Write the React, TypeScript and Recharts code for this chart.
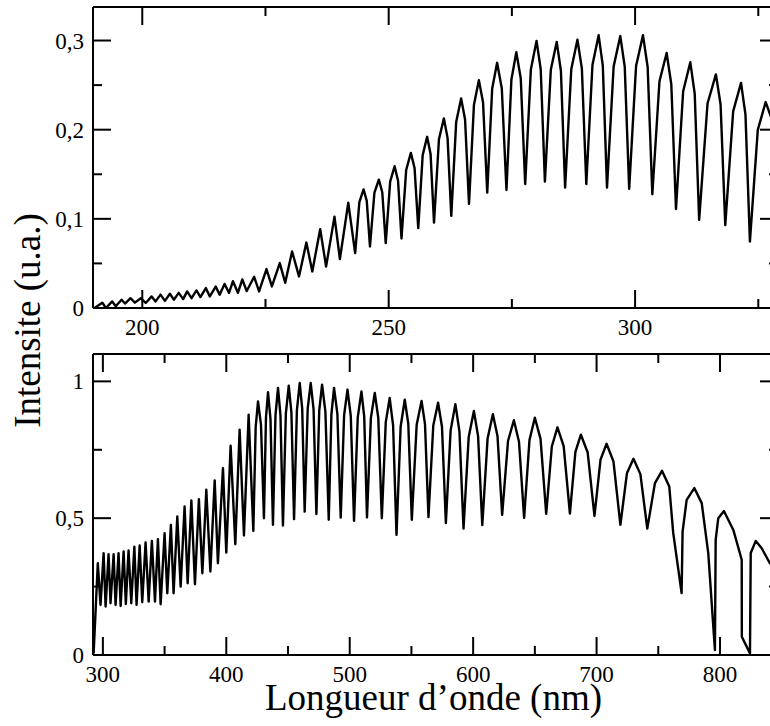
import React from 'react';
import { LineChart, Line, XAxis, YAxis } from 'recharts';

// ---- Top panel (UV): [wavelength nm, intensity u.a.] ----
const topSpectrum: [number, number][] = [
  [190.3, 0.0], [191.9, 0.006], [192.6, 0.0], [193.9, 0.0074], [194.6, 0.002],
  [195.8, 0.0093], [196.5, 0.005], [197.6, 0.011], [198.5, 0.006], [199.7, 0.011],
  [200.7, 0.0056], [201.9, 0.013], [202.7, 0.0074], [203.7, 0.015], [204.6, 0.008],
  [205.6, 0.016], [206.4, 0.0093], [207.4, 0.017], [208.3, 0.01], [209.1, 0.0186],
  [210.0, 0.011], [211.0, 0.0197], [211.8, 0.0123], [212.9, 0.0224], [213.7, 0.013],
  [214.9, 0.024], [215.7, 0.015], [216.7, 0.027], [217.6, 0.017], [218.4, 0.03],
  [219.4, 0.017], [220.3, 0.032], [221.2, 0.019], [222.7, 0.035], [223.7, 0.0186],
  [225.2, 0.0437], [226.3, 0.0242], [227.9, 0.0504], [229.0, 0.0283], [230.4, 0.0634],
  [231.8, 0.0354], [233.3, 0.0734], [234.5, 0.041], [236.1, 0.0884], [237.3, 0.0466],
  [239.0, 0.1025], [240.1, 0.0549], [241.8, 0.118], [243.2, 0.0616],
  [244.05, 0.1187], [244.9, 0.133], [245.55, 0.1202], [246.2, 0.069],
  [247.1, 0.129], [248.0, 0.144], [248.7, 0.1298], [249.4, 0.0728],
  [250.3, 0.1418], [251.2, 0.159], [251.9, 0.1428], [252.6, 0.078],
  [253.55, 0.1548], [254.5, 0.174], [255.25, 0.1571], [256.0, 0.0896],
  [256.9, 0.1715], [257.8, 0.192], [258.5, 0.1728], [259.2, 0.0958],
  [260.2, 0.1893], [261.2, 0.2127], [261.95, 0.1908], [262.7, 0.1033],
  [263.7, 0.2087], [264.7, 0.235], [265.5, 0.2114], [266.3, 0.1168],
  [267.3, 0.2278], [268.3, 0.2556], [269.15, 0.2304], [270.0, 0.1294],
  [271.0, 0.2459], [272.0, 0.275], [272.95, 0.2465], [273.9, 0.1324],
  [274.9, 0.2561], [275.9, 0.287], [276.8, 0.2574], [277.7, 0.139],
  [278.85, 0.2675], [280.0, 0.2996], [280.85, 0.268], [281.7, 0.1417],
  [282.9, 0.2671], [284.1, 0.2985], [284.95, 0.2658], [285.8, 0.135],
  [287.05, 0.2678], [288.3, 0.301], [289.2, 0.2686], [290.1, 0.139],
  [291.35, 0.2726], [292.6, 0.306], [293.45, 0.2718], [294.3, 0.135],
  [295.65, 0.271], [297.0, 0.305], [297.9, 0.2707], [298.8, 0.1336],
  [300.2, 0.2715], [301.6, 0.306], [302.55, 0.2703], [303.5, 0.1276],
  [304.95, 0.2543], [306.4, 0.286], [307.35, 0.251], [308.3, 0.111],
  [309.75, 0.2428], [311.2, 0.2757], [312.1, 0.2403], [313.0, 0.0988],
  [314.7, 0.2294], [316.4, 0.262], [317.35, 0.2282], [318.3, 0.093],
  [319.9, 0.2206], [321.5, 0.2525], [322.4, 0.2169], [323.3, 0.0745],
  [324.9, 0.1997], [326.5, 0.231], [328.5, 0.2],
];

// ---- Bottom panel (visible / near IR): [wavelength nm, intensity u.a.] ----
const bottomSpectrum: [number, number][] = [
  [292.5, 0.006], [295.9, 0.3355], [298.1, 0.183], [300.6, 0.372], [302.2, 0.177],
  [304.6, 0.368], [306.2, 0.189], [308.7, 0.368], [310.3, 0.183], [312.7, 0.372],
  [314.4, 0.179], [316.8, 0.378], [318.6, 0.1866], [320.8, 0.3817], [323.0, 0.189],
  [325.5, 0.396], [327.3, 0.183], [329.8, 0.4], [331.9, 0.193], [334.6, 0.411],
  [337.1, 0.195], [339.7, 0.417], [342.2, 0.195], [344.6, 0.423], [346.8, 0.1855],
  [350.0, 0.445], [352.2, 0.2257], [355.1, 0.4757], [357.3, 0.2257], [360.3, 0.506],
  [363.0, 0.25], [366.2, 0.5426], [368.7, 0.262], [371.7, 0.5646], [374.6, 0.2587],
  [377.8, 0.5697], [380.6, 0.299], [383.8, 0.6037], [387.1, 0.305], [390.6, 0.638],
  [393.2, 0.3355], [397.3, 0.683], [400.0, 0.374], [403.5, 0.7647], [407.3, 0.405],
  [410.8, 0.823], [414.3, 0.4366], [418.1, 0.878], [421.9, 0.4537],
  [423.8, 0.8323], [425.7, 0.927], [428.1, 0.8416], [430.5, 0.5],
  [432.15, 0.868], [433.8, 0.96], [435.8, 0.8631], [437.8, 0.4757],
  [439.85, 0.876], [441.9, 0.976], [443.9, 0.8754], [445.9, 0.473],
  [448.25, 0.8818], [450.6, 0.984], [452.75, 0.8865], [454.9, 0.4965],
  [457.2, 0.8945], [459.5, 0.994], [461.5, 0.9], [463.5, 0.524],
  [465.95, 0.9], [468.4, 0.994], [470.7, 0.8982], [473.0, 0.515],
  [475.3, 0.8934], [477.6, 0.988], [480.3, 0.8892], [483.0, 0.494],
  [485.15, 0.8796], [487.3, 0.976], [490.0, 0.8812], [492.7, 0.502],
  [495.45, 0.8764], [498.2, 0.97], [500.85, 0.874], [503.5, 0.49],
  [506.5, 0.8684], [509.5, 0.963], [511.75, 0.871], [514.0, 0.503],
  [517.15, 0.8667], [520.3, 0.9576], [523.15, 0.8661], [526.0, 0.5],
  [529.2, 0.8512], [532.4, 0.939], [535.15, 0.839], [537.9, 0.439],
  [541.25, 0.8342], [544.6, 0.933], [547.45, 0.8452], [550.3, 0.494],
  [554.25, 0.8418], [558.2, 0.9287], [561.0, 0.8438], [563.8, 0.504],
  [567.7, 0.8384], [571.6, 0.922], [574.75, 0.834], [577.9, 0.482],
  [581.75, 0.821], [585.6, 0.9166], [588.9, 0.817], [592.2, 0.462],
  [596.4, 0.797], [600.6, 0.892], [604.0, 0.8], [607.4, 0.4745],
  [611.7, 0.791], [616.0, 0.88], [619.75, 0.799], [623.5, 0.512],
  [628.25, 0.782], [633.0, 0.858], [637.15, 0.779], [641.3, 0.501],
  [645.65, 0.786], [650.0, 0.867], [654.6, 0.79], [659.2, 0.516],
  [663.75, 0.762], [668.3, 0.832], [673.35, 0.763], [678.4, 0.517],
  [682.85, 0.742], [687.3, 0.805], [692.8, 0.74], [698.3, 0.508],
  [703.2, 0.714], [708.1, 0.772], [713.7, 0.707], [719.3, 0.4757],
  [724.6, 0.664], [729.9, 0.717], [735.5, 0.661], [741.1, 0.462],
  [747.3, 0.628], [753.0, 0.673], [758.9, 0.616], [762.1, 0.446],
  [768.9, 0.226], [769.7, 0.451], [773.0, 0.567], [779.2, 0.61],
  [785.2, 0.555], [790.5, 0.372], [795.9, 0.018], [796.5, 0.421],
  [798.6, 0.5], [803.2, 0.526], [810.8, 0.457], [817.6, 0.348],
  [817.7, 0.067], [824.3, 0.006], [824.9, 0.373], [829.0, 0.417],
  [833.8, 0.39], [840.5, 0.335], [846.0, 0.32],
];

// ---- Axis ticks ----
const topXMajor = [200, 250, 300];
const topXMinor = [225, 275, 325];
const topYMajor = [0, 0.1, 0.2, 0.3];
const topYMinor = [0.05, 0.15, 0.25];
const bottomXMajor = [300, 400, 500, 600, 700, 800];
const bottomXMinor = [350, 450, 550, 650, 750];
const bottomYMajor = [0, 0.5, 1];
const bottomYMinor = [0.25, 0.75];

const xTitle = 'Longueur d\u2019onde (nm)';
const yTitle = 'Intensite (u.a.)';

const FONT = "'Liberation Serif', 'Times New Roman', Times, serif";
const fmt = (v: number) => String(v).replace('.', ',');

const topData = topSpectrum.map(([x, y]) => ({ x, y }));
const bottomData = bottomSpectrum.map(([x, y]) => ({ x, y }));

type Side = 'bottom' | 'top' | 'left' | 'right';

const labelStyle = { fontFamily: FONT, fontSize: 23 };

const makeTick = (side: Side, majors: number[], withLabel: boolean) => (props: any) => {
  const { x, y, payload } = props;
  const v = payload.value as number;
  const isMajor = majors.some((m) => Math.abs(m - v) < 1e-9);
  const len = isMajor ? 18 : 9;
  let x2 = x;
  let y2 = y;
  if (side === 'bottom') y2 = y - len;
  if (side === 'top') y2 = y + len;
  if (side === 'left') x2 = x + len;
  if (side === 'right') x2 = x - len;
  let label = null;
  if (withLabel && isMajor) {
    if (side === 'bottom') {
      label = (
        <text x={x} y={y + 27} textAnchor="middle" fontSize={23} fontFamily={FONT} style={labelStyle} fill="#000">
          {fmt(v)}
        </text>
      );
    } else if (side === 'left') {
      label = (
        <text x={x - 9} y={y + 8} textAnchor="end" fontSize={23} fontFamily={FONT} style={labelStyle} fill="#000">
          {fmt(v)}
        </text>
      );
    }
  }
  return (
    <g>
      <line x1={x} y1={y} x2={x2} y2={y2} stroke="#000" strokeWidth={2} />
      {label}
    </g>
  );
};

const axisLine = { stroke: '#000', strokeWidth: 2 };

interface PanelProps {
  data: { x: number; y: number }[];
  xDomain: [number, number];
  yDomain: [number, number];
  xMajor: number[];
  xMinor: number[];
  yMajor: number[];
  yMinor: number[];
  top: number;
}

const Panel = ({ data, xDomain, yDomain, xMajor, xMinor, yMajor, yMinor, top }: PanelProps) => (
  <div style={{ position: 'absolute', left: 0, top }}>
    <LineChart width={800} height={345} data={data} margin={{ top: 0, right: 0, bottom: 0, left: 0 }}>
      <XAxis
        xAxisId="b"
        orientation="bottom"
        dataKey="x"
        type="number"
        domain={xDomain}
        allowDataOverflow
        ticks={[...xMajor, ...xMinor]}
        interval={0}
        tickSize={0}
        tickMargin={0}
        tickLine={false}
        axisLine={axisLine}
        height={37}
        tick={makeTick('bottom', xMajor, true)}
      />
      <XAxis
        xAxisId="t"
        orientation="top"
        dataKey="x"
        type="number"
        domain={xDomain}
        allowDataOverflow
        ticks={[...xMajor, ...xMinor]}
        interval={0}
        tickSize={0}
        tickMargin={0}
        tickLine={false}
        axisLine={axisLine}
        height={7}
        tick={makeTick('top', xMajor, false)}
      />
      <YAxis
        yAxisId="l"
        orientation="left"
        type="number"
        domain={yDomain}
        allowDataOverflow
        ticks={[...yMajor, ...yMinor]}
        interval={0}
        tickSize={0}
        tickMargin={0}
        tickLine={false}
        axisLine={axisLine}
        width={93}
        tick={makeTick('left', yMajor, true)}
      />
      <YAxis
        yAxisId="r"
        orientation="right"
        type="number"
        domain={yDomain}
        allowDataOverflow
        ticks={[...yMajor, ...yMinor]}
        interval={0}
        tickSize={0}
        tickMargin={0}
        tickLine={false}
        axisLine={axisLine}
        width={22}
        tick={makeTick('right', yMajor, false)}
      />
      <Line
        xAxisId="b"
        yAxisId="l"
        type="linear"
        dataKey="y"
        stroke="#000"
        strokeWidth={2.4}
        strokeLinejoin="round"
        dot={false}
        isAnimationActive={false}
      />
      <Line
        xAxisId="t"
        yAxisId="r"
        type="linear"
        dataKey="y"
        stroke="none"
        dot={false}
        isAnimationActive={false}
      />
    </LineChart>
  </div>
);

export default function App() {
  return (
    <div
      style={{
        position: 'absolute',
        left: 0,
        top: 0,
        width: 770,
        height: 726,
        overflow: 'hidden',
        background: '#fff',
      }}
    >
      <Panel
        data={topData}
        xDomain={[190, 329]}
        yDomain={[0, 0.3376]}
        xMajor={topXMajor}
        xMinor={topXMinor}
        yMajor={topYMajor}
        yMinor={topYMinor}
        top={0}
      />
      <Panel
        data={bottomData}
        xDomain={[292, 847]}
        yDomain={[0, 1.1]}
        xMajor={bottomXMajor}
        xMinor={bottomXMinor}
        yMajor={bottomYMajor}
        yMinor={bottomYMinor}
        top={347}
      />
      <svg
        width={770}
        height={726}
        style={{ position: 'absolute', left: 0, top: 0, pointerEvents: 'none' }}
      >
        <text x={433.5} y={710} textAnchor="middle" fontSize={37} fontFamily={FONT} fill="#000">
          {xTitle}
        </text>
        <text
          x={0}
          y={0}
          transform="translate(40,320.5) rotate(-90)"
          textAnchor="middle"
          fontSize={37}
          fontFamily={FONT}
          fill="#000"
        >
          {yTitle}
        </text>
      </svg>
    </div>
  );
}
